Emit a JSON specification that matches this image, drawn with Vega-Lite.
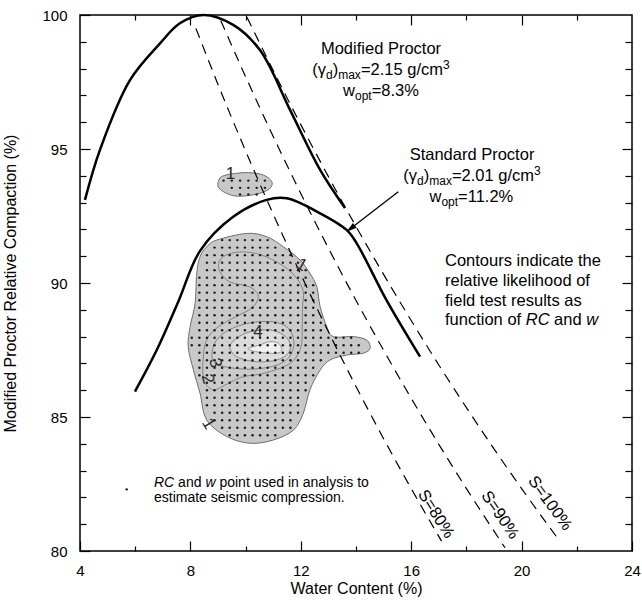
{
  "$schema": "https://vega.github.io/schema/vega-lite/v6.json",
  "width": 552,
  "height": 536,
  "autosize": {"type": "none"},
  "padding": {"left": 80, "top": 15, "right": 10, "bottom": 49},
  "background": "white",
  "config": {
    "font": "Liberation Sans",
    "view": {"stroke": "black", "strokeWidth": 1.5},
    "axis": {"grid": false, "domain": false, "ticks": true, "tickColor": "black", "tickWidth": 1.2, "tickOpacity": 1, "labelColor": "black", "labelFontSize": 15, "titleFontSize": 16, "titleFontWeight": "normal", "titleColor": "black", "labelFont": "Liberation Sans", "titleFont": "Liberation Sans", "labelFlush": false}
  },
  "datasets": {
    "c1": [
      {"i":0,"w":8.95,"rc":91.6},{"i":1,"w":10.04,"rc":91.85},{"i":2,"w":10.76,"rc":91.73},{"i":3,"w":11.37,"rc":91.35},
      {"i":4,"w":11.97,"rc":90.86},{"i":5,"w":12.33,"rc":90.36},{"i":6,"w":12.58,"rc":89.86},{"i":7,"w":12.7,"rc":89.12},
      {"i":8,"w":12.94,"rc":88.37},{"i":9,"w":13.18,"rc":88.0},{"i":10,"w":13.9,"rc":88.0},{"i":11,"w":14.39,"rc":87.87},
      {"i":12,"w":14.51,"rc":87.56},{"i":13,"w":14.26,"rc":87.38},{"i":14,"w":13.66,"rc":87.31},{"i":15,"w":13.06,"rc":87.13},
      {"i":16,"w":12.7,"rc":86.75},{"i":17,"w":12.33,"rc":86.01},{"i":18,"w":12.09,"rc":85.14},{"i":19,"w":11.73,"rc":84.51},
      {"i":20,"w":11.0,"rc":84.14},{"i":21,"w":10.16,"rc":84.02},{"i":22,"w":9.32,"rc":84.27},{"i":23,"w":8.59,"rc":84.89},
      {"i":24,"w":8.35,"rc":85.88},{"i":25,"w":8.11,"rc":86.75},{"i":26,"w":7.92,"rc":87.62},{"i":27,"w":7.99,"rc":88.37},
      {"i":28,"w":8.17,"rc":89.24},{"i":29,"w":8.23,"rc":90.36},{"i":30,"w":8.35,"rc":90.98},{"i":31,"w":8.59,"rc":91.35}
    ],
    "c2": [
      {"i":0,"w":9.07,"rc":90.42},{"i":1,"w":9.04,"rc":90.78},{"i":2,"w":9.29,"rc":91.04},{"i":3,"w":9.86,"rc":91.16},
      {"i":4,"w":10.59,"rc":91.04},{"i":5,"w":11.37,"rc":90.63},{"i":6,"w":11.85,"rc":90.18},{"i":7,"w":12.09,"rc":89.68},
      {"i":8,"w":12.06,"rc":89.06},{"i":9,"w":12.05,"rc":88.4},{"i":10,"w":12.0,"rc":87.6},{"i":11,"w":11.61,"rc":87.0},
      {"i":12,"w":10.7,"rc":86.64},{"i":13,"w":9.87,"rc":86.49},{"i":14,"w":9.25,"rc":86.19},{"i":15,"w":8.82,"rc":86.01},
      {"i":16,"w":8.49,"rc":86.38},{"i":17,"w":8.46,"rc":87.13},{"i":18,"w":8.59,"rc":87.87},{"i":19,"w":9.0,"rc":88.36},
      {"i":20,"w":9.62,"rc":88.73},{"i":21,"w":10.23,"rc":89.07},{"i":22,"w":10.46,"rc":89.51},{"i":23,"w":10.16,"rc":89.85},
      {"i":24,"w":9.43,"rc":90.04}
    ],
    "c3": [
      {"i":0,"w":8.78,"rc":87.31},{"i":1,"w":8.93,"rc":87.84},{"i":2,"w":9.4,"rc":88.25},{"i":3,"w":10.16,"rc":88.51},
      {"i":4,"w":10.99,"rc":88.55},{"i":5,"w":11.54,"rc":88.32},{"i":6,"w":11.75,"rc":87.8},{"i":7,"w":11.61,"rc":87.28},
      {"i":8,"w":11.14,"rc":86.94},{"i":9,"w":10.34,"rc":86.79},{"i":10,"w":9.51,"rc":86.83},{"i":11,"w":8.96,"rc":86.98}
    ],
    "c4": [
      {"i":0,"w":9.43,"rc":87.62},{"i":1,"w":9.68,"rc":87.94},{"i":2,"w":10.16,"rc":88.18},{"i":3,"w":10.88,"rc":88.25},
      {"i":4,"w":11.37,"rc":88.06},{"i":5,"w":11.61,"rc":87.75},{"i":6,"w":11.55,"rc":87.38},{"i":7,"w":11.13,"rc":87.13},
      {"i":8,"w":10.4,"rc":87.06},{"i":9,"w":9.68,"rc":87.25}
    ],
    "c5": [
      {"i":0,"w":10.1,"rc":87.56},{"i":1,"w":10.52,"rc":87.69},{"i":2,"w":10.88,"rc":87.81},{"i":3,"w":11.19,"rc":87.75},
      {"i":4,"w":11.31,"rc":87.5},{"i":5,"w":11.13,"rc":87.38},{"i":6,"w":10.64,"rc":87.4},{"i":7,"w":10.28,"rc":87.46}
    ],
    "isl": [
      {"i":0,"w":9.01,"rc":93.78},{"i":1,"w":9.13,"rc":93.97},{"i":2,"w":9.5,"rc":94.07},{"i":3,"w":10.1,"rc":94.12},
      {"i":4,"w":10.64,"rc":94.03},{"i":5,"w":10.95,"rc":93.78},{"i":6,"w":10.88,"rc":93.53},{"i":7,"w":10.52,"rc":93.35},
      {"i":8,"w":9.98,"rc":93.25},{"i":9,"w":9.55,"rc":93.26},{"i":10,"w":9.19,"rc":93.41},{"i":11,"w":9.01,"rc":93.59}
    ],
    "dots": [
      {"w":9.2,"rc":93.82},{"w":9.5,"rc":93.82},{"w":9.8,"rc":93.82},{"w":10.1,"rc":93.82},{"w":10.4,"rc":93.82},{"w":10.7,"rc":93.82},
      {"w":9.5,"rc":93.55},{"w":9.8,"rc":93.55},{"w":10.1,"rc":93.55},{"w":10.4,"rc":93.55},{"w":10.7,"rc":93.55},
      {"w":9.8,"rc":93.3},{"w":10.1,"rc":93.3},{"w":10.4,"rc":93.3},
      {"w":9.15,"rc":91.6},{"w":9.425,"rc":91.6},{"w":9.7,"rc":91.6},{"w":9.975,"rc":91.6},{"w":10.25,"rc":91.6},{"w":10.525,"rc":91.6},{"w":10.8,"rc":91.6},
      {"w":8.875,"rc":91.32},{"w":9.15,"rc":91.32},{"w":9.425,"rc":91.32},{"w":9.7,"rc":91.32},{"w":9.975,"rc":91.32},{"w":10.25,"rc":91.32},{"w":10.525,"rc":91.32},{"w":10.8,"rc":91.32},{"w":11.075,"rc":91.32},
      {"w":8.6,"rc":91.04},{"w":8.875,"rc":91.04},{"w":9.15,"rc":91.04},{"w":9.425,"rc":91.04},{"w":9.7,"rc":91.04},{"w":9.975,"rc":91.04},{"w":10.25,"rc":91.04},{"w":10.525,"rc":91.04},{"w":10.8,"rc":91.04},{"w":11.075,"rc":91.04},{"w":11.35,"rc":91.04},{"w":11.625,"rc":91.04},
      {"w":8.6,"rc":90.76},{"w":8.875,"rc":90.76},{"w":9.15,"rc":90.76},{"w":9.425,"rc":90.76},{"w":9.7,"rc":90.76},{"w":9.975,"rc":90.76},{"w":10.25,"rc":90.76},{"w":10.525,"rc":90.76},{"w":10.8,"rc":90.76},{"w":11.075,"rc":90.76},{"w":11.35,"rc":90.76},{"w":11.625,"rc":90.76},{"w":11.9,"rc":90.76},
      {"w":8.6,"rc":90.48},{"w":8.875,"rc":90.48},{"w":9.15,"rc":90.48},{"w":9.425,"rc":90.48},{"w":9.7,"rc":90.48},{"w":9.975,"rc":90.48},{"w":10.25,"rc":90.48},{"w":10.525,"rc":90.48},{"w":10.8,"rc":90.48},{"w":11.075,"rc":90.48},{"w":11.35,"rc":90.48},{"w":11.625,"rc":90.48},{"w":11.9,"rc":90.48},{"w":12.175,"rc":90.48},
      {"w":8.325,"rc":90.2},{"w":8.6,"rc":90.2},{"w":8.875,"rc":90.2},{"w":9.15,"rc":90.2},{"w":9.425,"rc":90.2},{"w":9.7,"rc":90.2},{"w":9.975,"rc":90.2},{"w":10.25,"rc":90.2},{"w":10.525,"rc":90.2},{"w":10.8,"rc":90.2},{"w":11.075,"rc":90.2},{"w":11.35,"rc":90.2},{"w":11.625,"rc":90.2},{"w":11.9,"rc":90.2},{"w":12.175,"rc":90.2},
      {"w":8.325,"rc":89.92},{"w":8.6,"rc":89.92},{"w":8.875,"rc":89.92},{"w":9.15,"rc":89.92},{"w":9.425,"rc":89.92},{"w":9.7,"rc":89.92},{"w":9.975,"rc":89.92},{"w":10.25,"rc":89.92},{"w":10.525,"rc":89.92},{"w":10.8,"rc":89.92},{"w":11.075,"rc":89.92},{"w":11.35,"rc":89.92},{"w":11.625,"rc":89.92},{"w":11.9,"rc":89.92},{"w":12.175,"rc":89.92},{"w":12.45,"rc":89.92},
      {"w":8.325,"rc":89.64},{"w":8.6,"rc":89.64},{"w":8.875,"rc":89.64},{"w":9.15,"rc":89.64},{"w":9.425,"rc":89.64},{"w":9.7,"rc":89.64},{"w":9.975,"rc":89.64},{"w":10.25,"rc":89.64},{"w":10.525,"rc":89.64},{"w":10.8,"rc":89.64},{"w":11.075,"rc":89.64},{"w":11.35,"rc":89.64},{"w":11.625,"rc":89.64},{"w":11.9,"rc":89.64},{"w":12.175,"rc":89.64},{"w":12.45,"rc":89.64},
      {"w":8.325,"rc":89.36},{"w":8.6,"rc":89.36},{"w":8.875,"rc":89.36},{"w":9.15,"rc":89.36},{"w":9.425,"rc":89.36},{"w":9.7,"rc":89.36},{"w":9.975,"rc":89.36},{"w":10.25,"rc":89.36},{"w":10.525,"rc":89.36},{"w":10.8,"rc":89.36},{"w":11.075,"rc":89.36},{"w":11.35,"rc":89.36},{"w":11.625,"rc":89.36},{"w":11.9,"rc":89.36},{"w":12.175,"rc":89.36},{"w":12.45,"rc":89.36},
      {"w":8.325,"rc":89.08},{"w":8.6,"rc":89.08},{"w":8.875,"rc":89.08},{"w":9.15,"rc":89.08},{"w":9.425,"rc":89.08},{"w":9.7,"rc":89.08},{"w":9.975,"rc":89.08},{"w":10.25,"rc":89.08},{"w":10.525,"rc":89.08},{"w":10.8,"rc":89.08},{"w":11.075,"rc":89.08},{"w":11.35,"rc":89.08},{"w":11.625,"rc":89.08},{"w":11.9,"rc":89.08},{"w":12.175,"rc":89.08},{"w":12.45,"rc":89.08},
      {"w":8.325,"rc":88.8},{"w":8.6,"rc":88.8},{"w":8.875,"rc":88.8},{"w":9.15,"rc":88.8},{"w":9.425,"rc":88.8},{"w":9.7,"rc":88.8},{"w":9.975,"rc":88.8},{"w":10.25,"rc":88.8},{"w":10.525,"rc":88.8},{"w":10.8,"rc":88.8},{"w":11.075,"rc":88.8},{"w":11.35,"rc":88.8},{"w":11.625,"rc":88.8},{"w":11.9,"rc":88.8},{"w":12.175,"rc":88.8},{"w":12.45,"rc":88.8},
      {"w":8.325,"rc":88.52},{"w":8.6,"rc":88.52},{"w":8.875,"rc":88.52},{"w":9.15,"rc":88.52},{"w":9.425,"rc":88.52},{"w":9.7,"rc":88.52},{"w":9.975,"rc":88.52},{"w":10.25,"rc":88.52},{"w":10.525,"rc":88.52},{"w":10.8,"rc":88.52},{"w":11.075,"rc":88.52},{"w":11.35,"rc":88.52},{"w":11.625,"rc":88.52},{"w":11.9,"rc":88.52},{"w":12.175,"rc":88.52},{"w":12.45,"rc":88.52},{"w":12.725,"rc":88.52},
      {"w":8.325,"rc":88.24},{"w":8.6,"rc":88.24},{"w":8.875,"rc":88.24},{"w":9.15,"rc":88.24},{"w":9.425,"rc":88.24},{"w":9.7,"rc":88.24},{"w":9.975,"rc":88.24},{"w":10.25,"rc":88.24},{"w":10.525,"rc":88.24},{"w":10.8,"rc":88.24},{"w":11.075,"rc":88.24},{"w":11.35,"rc":88.24},{"w":11.625,"rc":88.24},{"w":11.9,"rc":88.24},{"w":12.175,"rc":88.24},{"w":12.45,"rc":88.24},{"w":12.725,"rc":88.24},
      {"w":8.05,"rc":87.96},{"w":8.325,"rc":87.96},{"w":8.6,"rc":87.96},{"w":8.875,"rc":87.96},{"w":9.15,"rc":87.96},{"w":9.425,"rc":87.96},{"w":9.7,"rc":87.96},{"w":9.975,"rc":87.96},{"w":10.25,"rc":87.96},{"w":10.525,"rc":87.96},{"w":10.8,"rc":87.96},{"w":11.075,"rc":87.96},{"w":11.35,"rc":87.96},{"w":11.625,"rc":87.96},{"w":11.9,"rc":87.96},{"w":12.175,"rc":87.96},{"w":12.45,"rc":87.96},{"w":12.725,"rc":87.96},{"w":13.0,"rc":87.96},{"w":13.275,"rc":87.96},{"w":13.55,"rc":87.96},{"w":13.825,"rc":87.96},
      {"w":8.05,"rc":87.68},{"w":8.325,"rc":87.68},{"w":8.6,"rc":87.68},{"w":8.875,"rc":87.68},{"w":9.15,"rc":87.68},{"w":9.425,"rc":87.68},{"w":9.7,"rc":87.68},{"w":9.975,"rc":87.68},{"w":10.25,"rc":87.68},{"w":10.525,"rc":87.68},{"w":10.8,"rc":87.68},{"w":11.075,"rc":87.68},{"w":11.35,"rc":87.68},{"w":11.625,"rc":87.68},{"w":11.9,"rc":87.68},{"w":12.175,"rc":87.68},{"w":12.45,"rc":87.68},{"w":12.725,"rc":87.68},{"w":13.0,"rc":87.68},{"w":13.275,"rc":87.68},{"w":13.55,"rc":87.68},{"w":13.825,"rc":87.68},{"w":14.1,"rc":87.68},
      {"w":8.325,"rc":87.4},{"w":8.6,"rc":87.4},{"w":8.875,"rc":87.4},{"w":9.15,"rc":87.4},{"w":9.425,"rc":87.4},{"w":9.7,"rc":87.4},{"w":9.975,"rc":87.4},{"w":10.25,"rc":87.4},{"w":10.525,"rc":87.4},{"w":10.8,"rc":87.4},{"w":11.075,"rc":87.4},{"w":11.35,"rc":87.4},{"w":11.625,"rc":87.4},{"w":11.9,"rc":87.4},{"w":12.175,"rc":87.4},{"w":12.45,"rc":87.4},{"w":12.725,"rc":87.4},{"w":13.0,"rc":87.4},{"w":13.275,"rc":87.4},{"w":13.55,"rc":87.4},{"w":13.825,"rc":87.4},{"w":14.1,"rc":87.4},
      {"w":8.325,"rc":87.12},{"w":8.6,"rc":87.12},{"w":8.875,"rc":87.12},{"w":9.15,"rc":87.12},{"w":9.425,"rc":87.12},{"w":9.7,"rc":87.12},{"w":9.975,"rc":87.12},{"w":10.25,"rc":87.12},{"w":10.525,"rc":87.12},{"w":10.8,"rc":87.12},{"w":11.075,"rc":87.12},{"w":11.35,"rc":87.12},{"w":11.625,"rc":87.12},{"w":11.9,"rc":87.12},{"w":12.175,"rc":87.12},{"w":12.45,"rc":87.12},{"w":12.725,"rc":87.12},
      {"w":8.325,"rc":86.84},{"w":8.6,"rc":86.84},{"w":8.875,"rc":86.84},{"w":9.15,"rc":86.84},{"w":9.425,"rc":86.84},{"w":9.7,"rc":86.84},{"w":9.975,"rc":86.84},{"w":10.25,"rc":86.84},{"w":10.525,"rc":86.84},{"w":10.8,"rc":86.84},{"w":11.075,"rc":86.84},{"w":11.35,"rc":86.84},{"w":11.625,"rc":86.84},{"w":11.9,"rc":86.84},{"w":12.175,"rc":86.84},{"w":12.45,"rc":86.84},
      {"w":8.325,"rc":86.56},{"w":8.6,"rc":86.56},{"w":8.875,"rc":86.56},{"w":9.15,"rc":86.56},{"w":9.425,"rc":86.56},{"w":9.7,"rc":86.56},{"w":9.975,"rc":86.56},{"w":10.25,"rc":86.56},{"w":10.525,"rc":86.56},{"w":10.8,"rc":86.56},{"w":11.075,"rc":86.56},{"w":11.35,"rc":86.56},{"w":11.625,"rc":86.56},{"w":11.9,"rc":86.56},{"w":12.175,"rc":86.56},{"w":12.45,"rc":86.56},
      {"w":8.6,"rc":86.28},{"w":8.875,"rc":86.28},{"w":9.15,"rc":86.28},{"w":9.425,"rc":86.28},{"w":9.7,"rc":86.28},{"w":9.975,"rc":86.28},{"w":10.25,"rc":86.28},{"w":10.525,"rc":86.28},{"w":10.8,"rc":86.28},{"w":11.075,"rc":86.28},{"w":11.35,"rc":86.28},{"w":11.625,"rc":86.28},{"w":11.9,"rc":86.28},{"w":12.175,"rc":86.28},
      {"w":8.6,"rc":86.0},{"w":8.875,"rc":86.0},{"w":9.15,"rc":86.0},{"w":9.425,"rc":86.0},{"w":9.7,"rc":86.0},{"w":9.975,"rc":86.0},{"w":10.25,"rc":86.0},{"w":10.525,"rc":86.0},{"w":10.8,"rc":86.0},{"w":11.075,"rc":86.0},{"w":11.35,"rc":86.0},{"w":11.625,"rc":86.0},{"w":11.9,"rc":86.0},{"w":12.175,"rc":86.0},
      {"w":8.6,"rc":85.72},{"w":8.875,"rc":85.72},{"w":9.15,"rc":85.72},{"w":9.425,"rc":85.72},{"w":9.7,"rc":85.72},{"w":9.975,"rc":85.72},{"w":10.25,"rc":85.72},{"w":10.525,"rc":85.72},{"w":10.8,"rc":85.72},{"w":11.075,"rc":85.72},{"w":11.35,"rc":85.72},{"w":11.625,"rc":85.72},{"w":11.9,"rc":85.72},
      {"w":8.6,"rc":85.44},{"w":8.875,"rc":85.44},{"w":9.15,"rc":85.44},{"w":9.425,"rc":85.44},{"w":9.7,"rc":85.44},{"w":9.975,"rc":85.44},{"w":10.25,"rc":85.44},{"w":10.525,"rc":85.44},{"w":10.8,"rc":85.44},{"w":11.075,"rc":85.44},{"w":11.35,"rc":85.44},{"w":11.625,"rc":85.44},{"w":11.9,"rc":85.44},
      {"w":8.875,"rc":85.16},{"w":9.15,"rc":85.16},{"w":9.425,"rc":85.16},{"w":9.7,"rc":85.16},{"w":9.975,"rc":85.16},{"w":10.25,"rc":85.16},{"w":10.525,"rc":85.16},{"w":10.8,"rc":85.16},{"w":11.075,"rc":85.16},{"w":11.35,"rc":85.16},{"w":11.625,"rc":85.16},{"w":11.9,"rc":85.16},
      {"w":8.875,"rc":84.88},{"w":9.15,"rc":84.88},{"w":9.425,"rc":84.88},{"w":9.7,"rc":84.88},{"w":9.975,"rc":84.88},{"w":10.25,"rc":84.88},{"w":10.525,"rc":84.88},{"w":10.8,"rc":84.88},{"w":11.075,"rc":84.88},{"w":11.35,"rc":84.88},{"w":11.625,"rc":84.88},
      {"w":9.15,"rc":84.6},{"w":9.425,"rc":84.6},{"w":9.7,"rc":84.6},{"w":9.975,"rc":84.6},{"w":10.25,"rc":84.6},{"w":10.525,"rc":84.6},{"w":10.8,"rc":84.6},{"w":11.075,"rc":84.6},{"w":11.35,"rc":84.6},{"w":11.625,"rc":84.6},
      {"w":9.425,"rc":84.32},{"w":9.7,"rc":84.32},{"w":9.975,"rc":84.32},{"w":10.25,"rc":84.32},{"w":10.525,"rc":84.32},{"w":10.8,"rc":84.32},{"w":11.075,"rc":84.32},
      {"w":5.692,"rc":82.3}
    ],
    "zav": [
      {"s":"80","w":8.2,"rc":99.5},{"s":"80","w":9,"rc":97.41},{"s":"80","w":10,"rc":94.93},{"s":"80","w":11,"rc":92.57},{"s":"80","w":12,"rc":90.32},{"s":"80","w":13,"rc":88.18},{"s":"80","w":14,"rc":86.14},{"s":"80","w":15,"rc":84.19},{"s":"80","w":16,"rc":82.33},{"s":"80","w":17.1,"rc":80.37},
      {"s":"90","w":9.1,"rc":99.79},{"s":"90","w":10,"rc":97.7},{"s":"90","w":11,"rc":95.47},{"s":"90","w":12,"rc":93.34},{"s":"90","w":13,"rc":91.3},{"s":"90","w":14,"rc":89.35},{"s":"90","w":15,"rc":87.49},{"s":"90","w":16,"rc":85.7},{"s":"90","w":17,"rc":83.98},{"s":"90","w":18,"rc":82.33},{"s":"90","w":19.4,"rc":80.12},
      {"s":"100","w":10.05,"rc":99.92},{"s":"100","w":11,"rc":97.93},{"s":"100","w":12,"rc":95.91},{"s":"100","w":13,"rc":93.97},{"s":"100","w":14,"rc":92.11},{"s":"100","w":15,"rc":90.32},{"s":"100","w":16,"rc":88.6},{"s":"100","w":17,"rc":86.94},{"s":"100","w":18,"rc":85.35},{"s":"100","w":19,"rc":83.81},{"s":"100","w":20,"rc":82.33},{"s":"100","w":21.4,"rc":80.34}
    ],
    "proc": [
      {"c":"mod","w":4.18,"rc":93.1},{"c":"mod","w":4.72,"rc":94.96},{"c":"mod","w":5.81,"rc":97.57},{"c":"mod","w":6.9,"rc":98.94},{"c":"mod","w":7.62,"rc":99.69},{"c":"mod","w":8.47,"rc":100.0},{"c":"mod","w":9.55,"rc":99.63},{"c":"mod","w":10.52,"rc":98.69},{"c":"mod","w":11.61,"rc":96.46},{"c":"mod","w":12.7,"rc":94.22},{"c":"mod","w":13.6,"rc":92.8},
      {"c":"std","w":5.99,"rc":85.95},{"c":"std","w":6.78,"rc":87.5},{"c":"std","w":7.56,"rc":89.3},{"c":"std","w":8.35,"rc":91.2},{"c":"std","w":9.55,"rc":92.47},{"c":"std","w":10.76,"rc":93.1},{"c":"std","w":11.49,"rc":93.16},{"c":"std","w":12.7,"rc":92.6},{"c":"std","w":13.66,"rc":91.98},{"c":"std","w":14.02,"rc":91.49},{"c":"std","w":15.1,"rc":89.37},{"c":"std","w":16.32,"rc":87.25}
    ]
  },
  "encoding": {
    "x": {"field": "w", "type": "quantitative", "scale": {"domain": [4, 24], "nice": false, "zero": false}, "axis": null},
    "y": {"field": "rc", "type": "quantitative", "scale": {"domain": [80, 100], "nice": false, "zero": false}, "axis": null}
  },
  "resolve": {"axis": {"x": "independent", "y": "independent"}},
  "layer": [
    {"data": {"name": "c1"}, "mark": {"type": "line", "interpolate": "cardinal-closed", "fill": "#c8c8c8", "stroke": "#6e6e6e", "strokeWidth": 1}, "encoding": {"order": {"field": "i"}}},
    {"data": {"name": "c2"}, "mark": {"type": "line", "interpolate": "cardinal-closed", "fill": "#cacaca", "stroke": "#858585", "strokeWidth": 1}, "encoding": {"order": {"field": "i"}}},
    {"data": {"name": "c3"}, "mark": {"type": "line", "interpolate": "cardinal-closed", "fill": "#d0d0d0", "stroke": "#858585", "strokeWidth": 1}, "encoding": {"order": {"field": "i"}}},
    {"data": {"name": "c4"}, "mark": {"type": "line", "interpolate": "cardinal-closed", "fill": "#dcdcdc", "stroke": "#858585", "strokeWidth": 1}, "encoding": {"order": {"field": "i"}}},
    {"data": {"name": "c5"}, "mark": {"type": "line", "interpolate": "cardinal-closed", "fill": "#f0f0f0", "stroke": "#999999", "strokeWidth": 1}, "encoding": {"order": {"field": "i"}}},
    {"data": {"name": "isl"}, "mark": {"type": "line", "interpolate": "cardinal-closed", "fill": "#c8c8c8", "stroke": "#6e6e6e", "strokeWidth": 1}, "encoding": {"order": {"field": "i"}}},
    {"data": {"name": "dots"}, "mark": {"type": "point", "filled": true, "size": 6, "color": "#1a1a1a", "opacity": 1}},
    {"data": {"name": "zav"}, "mark": {"type": "line", "interpolate": "monotone", "stroke": "black", "strokeWidth": 1.2, "strokeDash": [10, 7]}, "encoding": {"detail": {"field": "s"}, "order": {"field": "w"}}},
    {"data": {"name": "proc"}, "mark": {"type": "line", "interpolate": "catmull-rom", "stroke": "black", "strokeWidth": 2.5}, "encoding": {"detail": {"field": "c"}, "order": {"field": "w"}}},
    {"data": {"values": [{"w": 15.533, "rc": 93.407}, {"w": 13.806, "rc": 92.03}]}, "mark": {"type": "line", "stroke": "black", "strokeWidth": 1.3}, "encoding": {}},
    {"data": {"values": [{"w": 13.806, "rc": 92.03}]}, "mark": {"type": "point", "shape": "M0,-1L0.6,1L-0.6,1Z", "size": 110, "filled": true, "color": "black", "opacity": 1, "angle": 232}},
    {"data": {"values": [{"t": "Modified Proctor", "w": 14.906, "rc": 98.545}, {"t": "Standard Proctor", "w": 18.203, "rc": 94.608}]},
     "mark": {"type": "text", "fontSize": 16.5, "align": "center", "baseline": "alphabetic", "color": "black"}, "encoding": {"text": {"field": "t"}}},
    {"data": {"values": [
      {"t": "(γ", "w": 12.417, "rc": 97.761}, {"t": ")", "w": 13.156, "rc": 97.761}, {"t": "=2.15 g/cm", "w": 14.178, "rc": 97.761},
      {"t": "w", "w": 13.533, "rc": 96.98}, {"t": "=8.3%", "w": 14.569, "rc": 96.98},
      {"t": "(γ", "w": 15.716, "rc": 93.806}, {"t": ")", "w": 16.457, "rc": 93.806}, {"t": "=2.01 g/cm", "w": 17.475, "rc": 93.806},
      {"t": "w", "w": 16.663, "rc": 93.022}, {"t": "=11.2%", "w": 17.699, "rc": 93.022},
      {"t": "Contours indicate the", "w": 17.225, "rc": 90.616}, {"t": "relative likelihood of", "w": 17.225, "rc": 89.888},
      {"t": "field test results as", "w": 17.225, "rc": 89.16}, {"t": "function of", "w": 17.225, "rc": 88.433}, {"t": "and", "w": 21.178, "rc": 88.433}]},
     "mark": {"type": "text", "fontSize": 16.5, "align": "left", "baseline": "alphabetic", "color": "black"}, "encoding": {"text": {"field": "t"}}},
    {"data": {"values": [{"t": "RC", "w": 20.149, "rc": 88.433}, {"t": "w", "w": 22.341, "rc": 88.433}]},
     "mark": {"type": "text", "fontSize": 16.5, "fontStyle": "italic", "align": "left", "baseline": "alphabetic", "color": "black"}, "encoding": {"text": {"field": "t"}}},
    {"data": {"values": [
      {"t": "d", "w": 12.913, "rc": 97.761}, {"t": "max", "w": 13.355, "rc": 97.761}, {"t": "opt", "w": 13.964, "rc": 96.98},
      {"t": "d", "w": 16.214, "rc": 93.806}, {"t": "max", "w": 16.656, "rc": 93.806}, {"t": "opt", "w": 17.094, "rc": 93.022}]},
     "mark": {"type": "text", "fontSize": 12, "align": "left", "baseline": "alphabetic", "dy": 4, "color": "black"}, "encoding": {"text": {"field": "t"}}},
    {"data": {"values": [{"t": "3", "w": 17.152, "rc": 97.761}, {"t": "3", "w": 20.449, "rc": 93.806}]},
     "mark": {"type": "text", "fontSize": 12, "align": "left", "baseline": "alphabetic", "dy": -6, "color": "black"}, "encoding": {"text": {"field": "t"}}},
    {"data": {"values": [{"t": "and", "w": 7.554, "rc": 82.388}, {"t": "point used in analysis to", "w": 9.051, "rc": 82.388}, {"t": "estimate seismic compression.", "w": 6.681, "rc": 81.828}]},
     "mark": {"type": "text", "fontSize": 14, "align": "left", "baseline": "alphabetic", "color": "black"}, "encoding": {"text": {"field": "t"}}},
    {"data": {"values": [{"t": "RC", "w": 6.681, "rc": 82.388}, {"t": "w", "w": 8.543, "rc": 82.388}]},
     "mark": {"type": "text", "fontSize": 14, "fontStyle": "italic", "align": "left", "baseline": "alphabetic", "color": "black"}, "encoding": {"text": {"field": "t"}}},
    {"data": {"values": [{"t": "1", "w": 9.453, "rc": 94.07}, {"t": "4", "w": 10.449, "rc": 88.19}]},
     "mark": {"type": "text", "fontSize": 17, "align": "center", "baseline": "middle", "color": "#2a2a2a"}, "encoding": {"text": {"field": "t"}}},
    {"data": {"values": [{"t": "3", "w": 8.891, "rc": 87.015}, {"t": "2", "w": 8.62, "rc": 86.42}]},
     "mark": {"type": "text", "fontSize": 17, "align": "center", "baseline": "middle", "angle": 75, "color": "#2a2a2a"}, "encoding": {"text": {"field": "t"}}},
    {"data": {"values": [{"t": "1", "w": 12.03, "rc": 90.67}]},
     "mark": {"type": "text", "fontSize": 17, "align": "center", "baseline": "middle", "angle": 30, "color": "#2a2a2a"}, "encoding": {"text": {"field": "t"}}},
    {"data": {"values": [{"t": "1", "w": 8.65, "rc": 84.74}]},
     "mark": {"type": "text", "fontSize": 17, "align": "center", "baseline": "middle", "angle": 58, "color": "#2a2a2a"}, "encoding": {"text": {"field": "t"}}},
    {"data": {"values": [{"t": "S=80%", "w": 16.899, "rc": 81.381}]},
     "mark": {"type": "text", "fontSize": 16.5, "align": "center", "baseline": "middle", "angle": 58, "color": "black"}, "encoding": {"text": {"field": "t"}}},
    {"data": {"values": [{"t": "S=90%", "w": 19.217, "rc": 81.343}]},
     "mark": {"type": "text", "fontSize": 16.5, "align": "center", "baseline": "middle", "angle": 56, "color": "black"}, "encoding": {"text": {"field": "t"}}},
    {"data": {"values": [{"t": "S=100%", "w": 21.029, "rc": 81.78}]},
     "mark": {"type": "text", "fontSize": 16.5, "align": "center", "baseline": "middle", "angle": 54, "color": "black"}, "encoding": {"text": {"field": "t"}}},
    {"data": {"values": [{"w": 4, "rc": 80}]}, "mark": {"type": "point", "opacity": 0},
     "encoding": {
       "x": {"field": "w", "type": "quantitative", "scale": {"domain": [4, 24], "nice": false, "zero": false},
             "axis": {"orient": "bottom", "values": [4, 8, 12, 16, 20, 24], "offset": -10, "tickSize": 10, "labelPadding": 12, "title": "Water Content (%)", "titlePadding": 2}},
       "y": {"field": "rc", "type": "quantitative", "scale": {"domain": [80, 100], "nice": false, "zero": false},
             "axis": {"orient": "left", "values": [80, 85, 90, 95, 100], "offset": -10, "tickSize": 10, "labelPadding": 13, "title": "Modified Proctor Relative Compaction (%)", "titlePadding": 23}}
     }},
    {"data": {"values": [{"w": 4, "rc": 80}]}, "mark": {"type": "point", "opacity": 0},
     "encoding": {
       "x": {"field": "w", "type": "quantitative", "scale": {"domain": [4, 24], "nice": false, "zero": false},
             "axis": {"orient": "bottom", "values": [6, 10, 14, 18, 22], "offset": -5, "tickSize": 5, "labels": false, "title": null}},
       "y": {"field": "rc", "type": "quantitative", "scale": {"domain": [80, 100], "nice": false, "zero": false},
             "axis": {"orient": "left", "values": [81, 82, 83, 84, 86, 87, 88, 89, 91, 92, 93, 94, 96, 97, 98, 99], "offset": -6, "tickSize": 6, "labels": false, "title": null}}
     }},
    {"data": {"values": [{"w": 4, "rc": 80}]}, "mark": {"type": "point", "opacity": 0},
     "encoding": {
       "x": {"field": "w", "type": "quantitative", "scale": {"domain": [4, 24], "nice": false, "zero": false},
             "axis": {"orient": "top", "values": [8, 12, 16, 20], "offset": -10, "tickSize": 10, "labels": false, "title": null}},
       "y": {"field": "rc", "type": "quantitative", "scale": {"domain": [80, 100], "nice": false, "zero": false},
             "axis": {"orient": "right", "values": [85, 90, 95], "offset": -10, "tickSize": 10, "labels": false, "title": null}}
     }},
    {"data": {"values": [{"w": 4, "rc": 80}]}, "mark": {"type": "point", "opacity": 0},
     "encoding": {
       "x": {"field": "w", "type": "quantitative", "scale": {"domain": [4, 24], "nice": false, "zero": false},
             "axis": {"orient": "top", "values": [6, 10, 14, 18, 22], "offset": -5, "tickSize": 5, "labels": false, "title": null}},
       "y": {"field": "rc", "type": "quantitative", "scale": {"domain": [80, 100], "nice": false, "zero": false},
             "axis": {"orient": "right", "values": [81, 82, 83, 84, 86, 87, 88, 89, 91, 92, 93, 94, 96, 97, 98, 99], "offset": -7, "tickSize": 7, "labels": false, "title": null}}
     }}
  ]
}
